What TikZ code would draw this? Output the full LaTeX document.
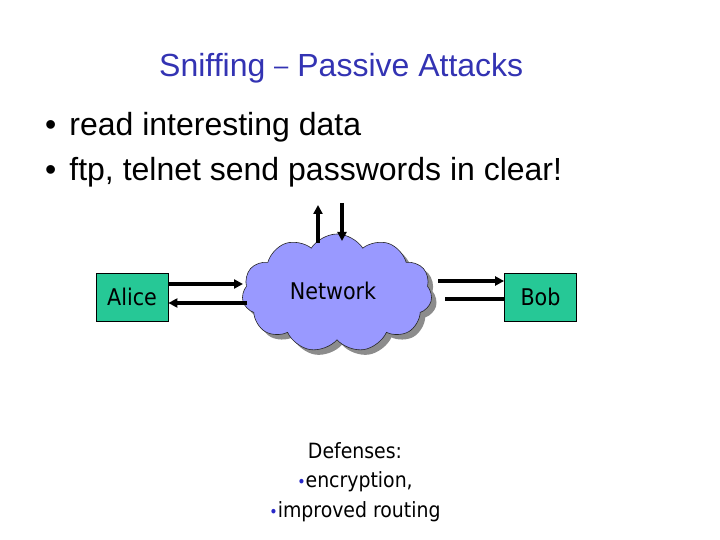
\documentclass[tikz,border=0pt]{standalone}
\usepackage{fontspec}
\setmainfont{Liberation Sans}
\newfontfamily\tahoma{DejaVu Sans Condensed}
\usetikzlibrary{shapes.symbols,shadows,arrows.meta,calc}
\definecolor{boxgreen}{RGB}{38,200,150}
\definecolor{cloudblue}{RGB}{153,153,255}
\definecolor{titleblue}{RGB}{51,51,179}
\definecolor{dotblue}{RGB}{40,40,200}
\begin{document}
\begin{tikzpicture}[x=1pt,y=-1pt,
  party/.style={draw=black,line width=0.8pt,fill=boxgreen,minimum width=72pt,minimum height=48pt,inner sep=0pt,font=\tahoma\fontsize{23}{27}\selectfont},
  net/.style={cloud,cloud puffs=11,cloud puff arc=115,aspect=1.6,draw=black!85,line width=0.6pt,fill=cloudblue,minimum width=190pt,minimum height=118pt,drop shadow={shadow xshift=5pt,shadow yshift=-5pt,fill=black!45,opacity=1}},
  conn/.style={line width=4.5pt},
  arr/.style={conn,-{Triangle[length=9pt,width=9pt]}},
  txt/.style={anchor=base west,inner sep=0pt,font=\fontsize{32}{36}\selectfont}
]
\useasboundingbox (0,0) rectangle (720,540);
\node[txt,text=titleblue] (title) at (159,77) {Sniffing \raisebox{2pt}{\scalebox{0.8}{–}} Passive Attacks};
\node[txt] (b1) at (45,136) {•\hspace{13pt}read interesting data};
\node[txt] (b2) at (45,181) {•\hspace{13pt}ftp, telnet send passwords in clear!};

\node[net] (net) at (337,293) {};
\node[font=\tahoma\fontsize{23}{27}\selectfont,inner sep=0pt] (netlbl) at (333,291) {Network};
\node[party] (alice) at (132,297) {Alice};
\node[party] (bob) at (540.5,297) {Bob};

\coordinate (aliceTopEnd) at (243,284);
\coordinate (aliceBotStart) at (247,303);
\coordinate (bobTopStart) at (438,281);
\coordinate (bobBotStart) at (445,299);
\coordinate (upTop) at (318,205);
\coordinate (upBot) at (318,243);
\coordinate (downTop) at (342,203);
\coordinate (downBot) at (342,241);

\draw[arr] (alice.east |- aliceTopEnd) -- (aliceTopEnd);
\draw[arr] (aliceBotStart) -- (alice.east |- aliceBotStart);
\draw[arr] (bobTopStart) -- (bob.west |- bobTopStart);
\draw[conn] (bobBotStart) -- (bob.west |- bobBotStart);
\draw[arr] (upBot) -- (upTop);
\draw[arr] (downTop) -- (downBot);

\node[align=center,inner sep=0pt,font=\tahoma\fontsize{21}{29.5}\selectfont] (def) at (355,482)
 {Defenses:\\{\color{dotblue}\scalebox{0.75}{•}}encryption,\\{\color{dotblue}\scalebox{0.75}{•}}improved routing};
\end{tikzpicture}
\end{document}
